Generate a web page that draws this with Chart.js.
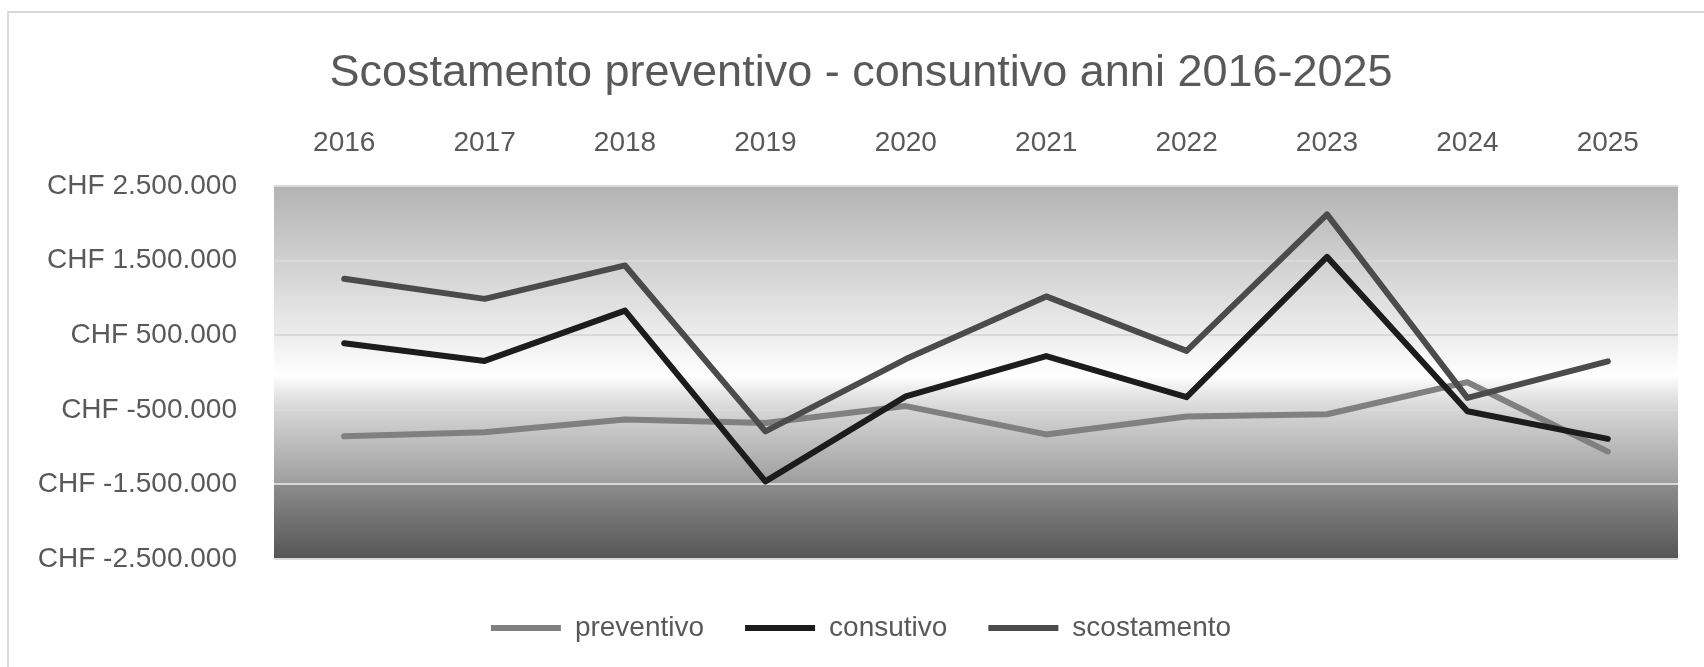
<!DOCTYPE html>
<html>
<head>
<meta charset="utf-8">
<script src="https://cdn.jsdelivr.net/npm/chart.js@4.4.1/dist/chart.umd.min.js"></script>
<style>
  html, body { margin: 0; padding: 0; background: #fff; overflow: hidden; }
  #wrap { position: relative; width: 1704px; height: 667px; }
  #frame { position: absolute; left: 7px; top: 11px; width: 1760px; height: 720px; border: 2px solid #d9d9d9; }
  #grafico { position: absolute; left: 0; top: 0; }
</style>
</head>
<body>
<div id="wrap">
  <div id="frame"></div>
  <canvas id="grafico" width="1704" height="667"></canvas>
</div>
<script>
// dati
const anni = ["2016", "2017", "2018", "2019", "2020", "2021", "2022", "2023", "2024", "2025"];
const preventivo = [-856000, -800000, -630000, -676000, -450000, -830000, -590000, -560000, -130000, -1060000];
const consuntivo = [393000, 155000, 829000, -1460000, -320000, 220000, -330000, 1550000, -520000, -890000];
const scostamento = [1256000, 987000, 1435000, -790000, 180000, 1020000, 290000, 2120000, -340000, 150000];
const yMin = -2500000;
const yMax = 2500000;
const yStep = 1000000;

const grigio = "#595959";

// controlla se un font e' installato
const hasFont = (name) => {
  const c = document.createElement("canvas").getContext("2d");
  c.font = "40px monospace";
  const a = c.measureText("Scostamento 2016").width;
  c.font = '40px "' + name + '", monospace';
  const b = c.measureText("Scostamento 2016").width;
  return a !== b;
};
const narrow = hasFont("Liberation Sans Narrow");
const titleFont = narrow
  ? { family: '"Liberation Sans Narrow", "Liberation Sans"', size: 55, weight: "normal", lineHeight: "66px" }
  : { family: '"Liberation Sans"', size: 45, weight: "normal", lineHeight: "66px" };

const chf = (v) => {
  const s = Math.abs(v).toString().replace(/\B(?=(\d{3})+(?!\d))/g, ".");
  return "CHF " + (v < 0 ? "-" : "") + s;
};

// sfondo sfumato dell'area del grafico
const sfondo = {
  id: "sfondo",
  beforeDraw(chart) {
    const { ctx, chartArea: a } = chart;
    const g = ctx.createLinearGradient(0, a.top, 0, a.bottom);
    g.addColorStop(0, "#b3b3b3");
    g.addColorStop(0.194, "#cfcfcf");
    g.addColorStop(0.396, "#ececec");
    g.addColorStop(0.51, "#ffffff");
    g.addColorStop(0.545, "#ececec");
    g.addColorStop(0.598, "#d6d6d6");
    g.addColorStop(0.797, "#9e9e9e");
    g.addColorStop(0.801, "#8c8c8c");
    g.addColorStop(1, "#555555");
    ctx.save();
    ctx.fillStyle = g;
    ctx.fillRect(a.left, a.top, a.right - a.left, a.bottom - a.top);
    ctx.restore();
  }
};

const serie = (label, data, color, order) => ({
  label: label,
  data: data,
  borderColor: color,
  backgroundColor: color,
  borderWidth: 6,
  borderCapStyle: "round",
  borderJoinStyle: "round",
  pointRadius: 0,
  pointHoverRadius: 0,
  tension: 0,
  fill: false,
  order: order
});

new Chart(document.getElementById("grafico"), {
  type: "line",
  data: {
    labels: anni,
    datasets: [
      serie("preventivo", preventivo, "#808080", 3),
      serie("consutivo", consuntivo, "#1c1c1c", 2),
      serie("scostamento", scostamento, "#4b4b4b", 1)
    ]
  },
  options: {
    responsive: false,
    devicePixelRatio: 1,
    animation: false,
    // titolo e legenda centrati sul riquadro (che esce a destra), come in Excel
    layout: { padding: { top: 0, left: 0, right: -18, bottom: 15 } },
    scales: {
      x: {
        position: "top",
        offset: true,
        grid: { display: false, drawTicks: false },
        border: { display: false },
        ticks: {
          color: grigio,
          padding: 26,
          font: { family: '"Liberation Sans"', size: 28 }
        },
        afterFit: (scale) => { scale.height = 60; }
      },
      y: {
        min: yMin,
        max: yMax,
        grid: { color: "#d9d9d9", lineWidth: 2, drawTicks: false },
        border: { display: false },
        ticks: {
          stepSize: yStep,
          color: grigio,
          padding: 37,
          font: { family: '"Liberation Sans"', size: 28 },
          callback: (v) => chf(v)
        },
        afterFit: (scale) => { scale.width = 274; }
      },
      // asse vuoto a destra: solo margine
      y2: {
        type: "linear",
        position: "right",
        grid: { display: false, drawTicks: false },
        border: { display: false },
        ticks: { display: false },
        afterFit: (scale) => { scale.width = 44; }
      }
    },
    plugins: {
      title: {
        display: true,
        text: "Scostamento preventivo - consuntivo anni 2016-2025",
        color: grigio,
        font: titleFont,
        padding: { top: 41, bottom: 19 }
      },
      legend: {
        position: "bottom",
        maxHeight: 110,
        title: { display: true, text: "", font: { size: 10 }, padding: { top: 1, bottom: 1 } },
        labels: {
          usePointStyle: true,
          pointStyle: "line",
          pointStyleWidth: 70,
          padding: 41,
          color: grigio,
          font: { family: '"Liberation Sans"', size: 28 },
          sort: (a, b) => a.datasetIndex - b.datasetIndex
        }
      },
      tooltip: { enabled: false }
    }
  },
  plugins: [sfondo]
});
</script>
</body>
</html>
